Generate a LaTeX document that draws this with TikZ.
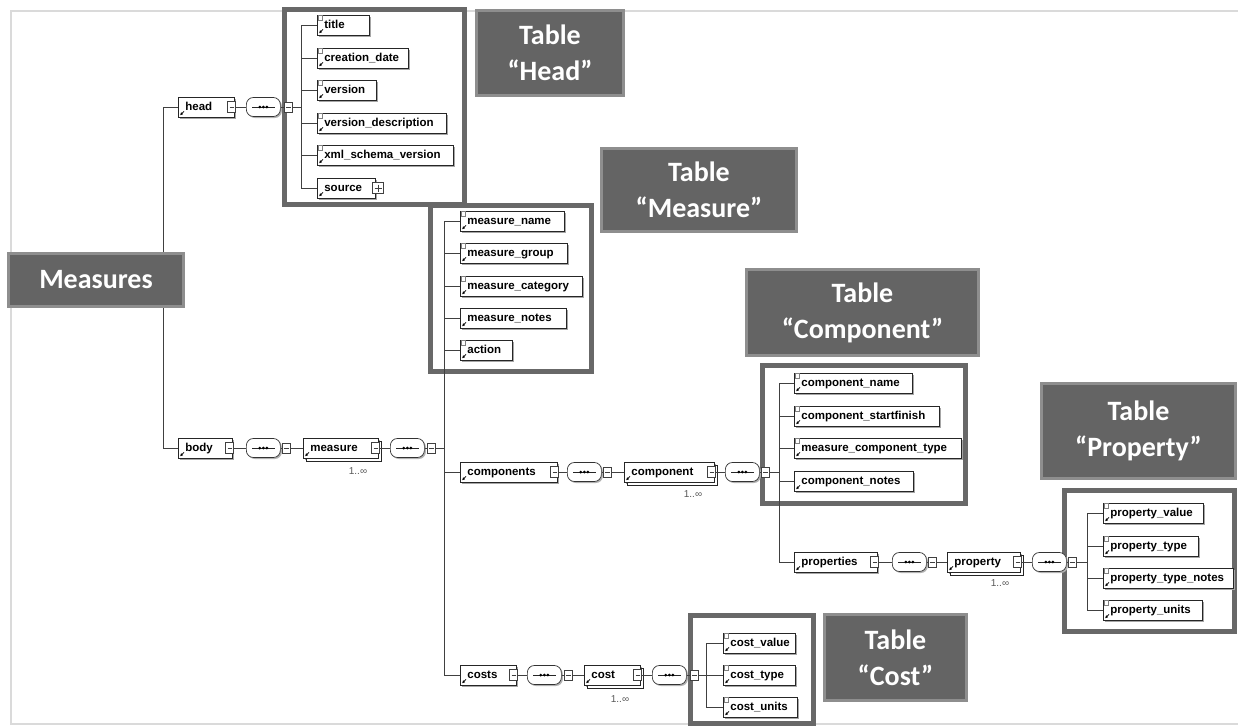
\documentclass[tikz,border=0pt]{standalone}
\usepackage{fontspec}
\setmainfont{Liberation Sans}
\newfontfamily\lblfont{Carlito}
\usetikzlibrary{shadows,calc,arrows.meta}
\definecolor{framegray}{HTML}{686868}
\definecolor{lblfill}{HTML}{646464}
\definecolor{lbledge}{HTML}{8E8E8E}
\definecolor{bggray}{HTML}{DADADA}
\newcommand\refarrow[1]{\draw[black,line width=0.7pt,-{Latex[length=3pt,width=3pt]}] ($(#1.south west)+(6,-6)$) -- ($(#1.south west)+(2,-2)$);}
\newcommand\leafmark[1]{\draw[black!50,line width=0.5pt,fill=white] ($(#1.north west)+(1.5,0.5)$) rectangle ++(4,5);}
\newcommand\minusbtn[1]{\draw[black!75,line width=0.6pt,fill=white] ($(#1.east)+(-7,-5.5)$) rectangle ($(#1.east)+(1,5.5)$);
  \draw[black!75,line width=0.6pt] ($(#1.east)+(-5,0)$) -- ($(#1.east)+(-1,0)$);}
\newcommand\plusbtn[1]{\draw[black!75,line width=0.6pt,fill=white] ($(#1.east)+(-3,-5.5)$) rectangle ($(#1.east)+(8,5.5)$);
  \draw[black!75,line width=0.6pt] ($(#1.east)+(-1,0)$) -- ($(#1.east)+(6,0)$);
  \draw[black!75,line width=0.6pt] ($(#1.east)+(2.5,-3.5)$) -- ($(#1.east)+(2.5,3.5)$);}
\newcommand\seqmark[1]{\draw[black!85,line width=0.8pt] ($(#1.west)+(6,0)$) -- ($(#1.east)+(-6,0)$);
  \foreach \dx in {-3.6,0,3.6} \fill[black] ($(#1.center)+(\dx,0)$) circle (1.5);}
\begin{document}
\begin{tikzpicture}[x=1pt,y=-1pt,
  conn/.style={draw=black!75,line width=0.8pt},
  elem/.style={draw=black!85,line width=0.7pt,fill=white,anchor=west,minimum height=20pt,
    inner xsep=0pt,inner ysep=0pt,text width=#1,align=left,text height=8.5pt,text depth=2.5pt,
    font=\bfseries\fontsize{11.5}{12}\selectfont,
    drop shadow={shadow xshift=2pt,shadow yshift=-2pt,fill=black!35,opacity=1}},
  multi/.style={elem=#1,copy shadow={shadow xshift=3pt,shadow yshift=-3pt,draw=black!85,fill=white,line width=0.7pt}},
  seqov/.style={draw=black!80,line width=0.7pt,fill=white,rounded corners=7pt,minimum width=34pt,
    minimum height=19pt,inner sep=0pt,anchor=west,
    drop shadow={shadow xshift=1.5pt,shadow yshift=-1.5pt,fill=black!30,opacity=1}},
  sqb/.style={draw=black!75,line width=0.6pt,fill=white,minimum width=8pt,minimum height=10pt,
    inner sep=0pt,anchor=west,
    path picture={\draw[black!75,line width=0.6pt] ([xshift=1.5pt]path picture bounding box.west) -- ([xshift=-1.5pt]path picture bounding box.east);}},
  mult/.style={font=\fontsize{10}{11}\selectfont,text=black!65,inner sep=0pt},
  tframe/.style={draw=framegray,line width=5pt,fill=white},
  tlabel/.style={draw=lbledge,line width=3pt,fill=lblfill,text=white,align=center,inner sep=0pt,
    font=\lblfont\bfseries\fontsize{28}{36}\selectfont},
]
\useasboundingbox (0,0) rectangle (1238,726);
\fill[white] (0,0) rectangle (1238,726);
\draw[bggray,line width=1.5pt] (1238,11) -- (11,11) -- (11,724) -- (1238,724);

% table frames
\draw[tframe] (284.5,9.5) rectangle (464.5,204.5);
\draw[tframe] (430.5,205.5) rectangle (591.5,371.5);
\draw[tframe] (762.5,365.5) rectangle (965.5,503.5);
\draw[tframe] (1064.5,490.5) rectangle (1234.5,631.5);
\draw[tframe] (690.5,615.5) rectangle (813.5,723.5);

% table labels
\node[tlabel,minimum width=147pt,minimum height=85pt] (lhead) at (550,53) {Table\\“Head”};
\node[tlabel,minimum width=195pt,minimum height=83pt] (lmeas) at (699,190) {Table\\“Measure”};
\node[tlabel,minimum width=232pt,minimum height=86pt] (lcomp) at (862.5,312.5) {Table\\“Component”};
\node[tlabel,minimum width=194pt,minimum height=95pt] (lprop) at (1138.5,431) {Table\\“Property”};
\node[tlabel,minimum width=142pt,minimum height=86pt] (lcost) at (895.5,657.5) {Table\\“Cost”};

% head branch
\node[elem=56pt] (head) at (178,107) {\hspace*{7pt}head};
\node[seqov] (hseq) at (246,107) {};
\node[sqb] (hsq) at (284,107) {};
\coordinate (hbus) at (301,107);
\node[elem=52pt] (title) at (317,25) {\hspace*{7pt}title};
\node[elem=91pt] (creation) at (317,58) {\hspace*{7pt}creation\_date};
\node[elem=59pt] (version) at (317,90) {\hspace*{7pt}version};
\node[elem=129pt] (versiondesc) at (317,123) {\hspace*{7pt}version\_description};
\node[elem=136pt] (xmlver) at (317,155) {\hspace*{7pt}xml\_schema\_version};
\node[elem=58pt] (source) at (317,188) {\hspace*{7pt}source};

% body branch
\node[elem=54pt] (body) at (178,448) {\hspace*{7pt}body};
\node[seqov] (bseq) at (246,448) {};
\node[sqb] (bsq) at (282,448) {};
\node[multi=75pt] (measure) at (303,448) {\hspace*{7pt}measure};
\node[mult] (mmult) at (358,471) {1..∞};
\node[seqov] (mseq) at (390,448) {};
\node[sqb] (msq) at (427,448) {};
\coordinate (mbus2) at (444,448);
\node[elem=104pt] (mname) at (460,221) {\hspace*{7pt}measure\_name};
\node[elem=107pt] (mgroup) at (460,253) {\hspace*{7pt}measure\_group};
\node[elem=122pt] (mcat) at (460,286) {\hspace*{7pt}measure\_category};
\node[elem=106pt] (mnotes) at (460,318) {\hspace*{7pt}measure\_notes};
\node[elem=52pt] (action) at (460,350) {\hspace*{7pt}action};
\node[elem=97pt] (components) at (460,472) {\hspace*{7pt}components};
\node[elem=56pt] (costs) at (460,675) {\hspace*{7pt}costs};

% components branch
\node[seqov] (cseq) at (567,472) {};
\node[sqb] (csq) at (603,472) {};
\node[multi=90pt] (component) at (624,472) {\hspace*{7pt}component};
\node[mult] (cmult) at (693,494) {1..∞};
\node[seqov] (cpseq) at (725,472) {};
\node[sqb] (cpsq) at (761,472) {};
\coordinate (cbus) at (779,472);
\node[elem=118pt] (cname) at (794,383) {\hspace*{7pt}component\_name};
\node[elem=145pt] (cstart) at (794,416) {\hspace*{7pt}component\_startfinish};
\node[elem=167pt] (cmtype) at (794,448) {\hspace*{7pt}measure\_component\_type};
\node[elem=119pt] (cnotes) at (794,481) {\hspace*{7pt}component\_notes};
\node[elem=83pt] (properties) at (794,562) {\hspace*{7pt}properties};

% properties branch
\node[seqov] (pseq) at (892,562) {};
\node[sqb] (psq) at (928,562) {};
\node[multi=73pt] (property) at (947,562) {\hspace*{7pt}property};
\node[mult] (pmult) at (1000,583) {1..∞};
\node[seqov] (ppseq) at (1032,562) {};
\node[sqb] (ppsq) at (1068,562) {};
\coordinate (pbus) at (1087,562);
\node[elem=100pt] (pvalue) at (1103,513) {\hspace*{7pt}property\_value};
\node[elem=95pt] (ptype) at (1103,546) {\hspace*{7pt}property\_type};
\node[elem=130pt] (ptnotes) at (1103,578) {\hspace*{7pt}property\_type\_notes};
\node[elem=99pt] (punits) at (1103,610) {\hspace*{7pt}property\_units};

% costs branch
\node[seqov] (coseq) at (527,675) {};
\node[sqb] (cosq) at (564,675) {};
\node[multi=56pt] (cost) at (584,675) {\hspace*{7pt}cost};
\node[mult] (comult) at (620,699) {1..∞};
\node[seqov] (ctseq) at (652,675) {};
\node[sqb] (ctsq) at (690,675) {};
\coordinate (cobus) at (706,675);
\node[elem=72pt] (cvalue) at (723,643) {\hspace*{7pt}cost\_value};
\node[elem=72pt] (ctype) at (723,675) {\hspace*{7pt}cost\_type};
\node[elem=74pt] (cunits) at (723,707) {\hspace*{7pt}cost\_units};

% icons
\foreach \n in {head,title,creation,version,versiondesc,xmlver,source,body,measure,mname,mgroup,mcat,mnotes,action,components,costs,component,cname,cstart,cmtype,cnotes,properties,property,pvalue,ptype,ptnotes,punits,cost,cvalue,ctype,cunits}
  {\refarrow{\n}}
\foreach \n in {title,creation,version,versiondesc,xmlver,mname,mgroup,mcat,action,cname,cstart,cmtype,pvalue,ptype,ptnotes,punits,cvalue,ctype,cunits}
  {\leafmark{\n}}
\foreach \n in {head,body,measure,components,component,properties,property,costs,cost}
  {\minusbtn{\n}}
\plusbtn{source}
\foreach \n in {hseq,bseq,mseq,cseq,cpseq,pseq,ppseq,coseq,ctseq}
  {\seqmark{\n}}

% connectors
\coordinate (mbus) at (163,280);
\draw[conn] (mbus) |- (head.west);
\draw[conn] (mbus) |- (body.west);
\draw[conn] (head.east) -- (hseq.west);
\draw[conn] (hseq.east) -- (hsq.west);
\draw[conn] (hsq.east) -- (hbus);
\foreach \n in {title,creation,version,versiondesc,xmlver,source}
  {\draw[conn] (hbus) |- (\n.west);}
\draw[conn] (body.east) -- (bseq.west);
\draw[conn] (bseq.east) -- (bsq.west);
\draw[conn] (bsq.east) -- (measure.west);
\draw[conn] (measure.east) -- (mseq.west);
\draw[conn] (mseq.east) -- (msq.west);
\draw[conn] (msq.east) -- (mbus2);
\foreach \n in {mname,mgroup,mcat,mnotes,action,components,costs}
  {\draw[conn] (mbus2) |- (\n.west);}
\draw[conn] (components.east) -- (cseq.west);
\draw[conn] (cseq.east) -- (csq.west);
\draw[conn] (csq.east) -- (component.west);
\draw[conn] (component.east) -- (cpseq.west);
\draw[conn] (cpseq.east) -- (cpsq.west);
\draw[conn] (cpsq.east) -- (cbus);
\foreach \n in {cname,cstart,cmtype,cnotes,properties}
  {\draw[conn] (cbus) |- (\n.west);}
\draw[conn] (properties.east) -- (pseq.west);
\draw[conn] (pseq.east) -- (psq.west);
\draw[conn] (psq.east) -- (property.west);
\draw[conn] (property.east) -- (ppseq.west);
\draw[conn] (ppseq.east) -- (ppsq.west);
\draw[conn] (ppsq.east) -- (pbus);
\foreach \n in {pvalue,ptype,ptnotes,punits}
  {\draw[conn] (pbus) |- (\n.west);}
\draw[conn] (costs.east) -- (coseq.west);
\draw[conn] (coseq.east) -- (cosq.west);
\draw[conn] (cosq.east) -- (cost.west);
\draw[conn] (cost.east) -- (ctseq.west);
\draw[conn] (ctseq.east) -- (ctsq.west);
\draw[conn] (ctsq.east) -- (cobus);
\foreach \n in {cvalue,ctype,cunits}
  {\draw[conn] (cobus) |- (\n.west);}

% root label
\node[tlabel,minimum width=175pt,minimum height=53pt] (measures) at (96,280) {Measures};
\end{tikzpicture}
\end{document}
